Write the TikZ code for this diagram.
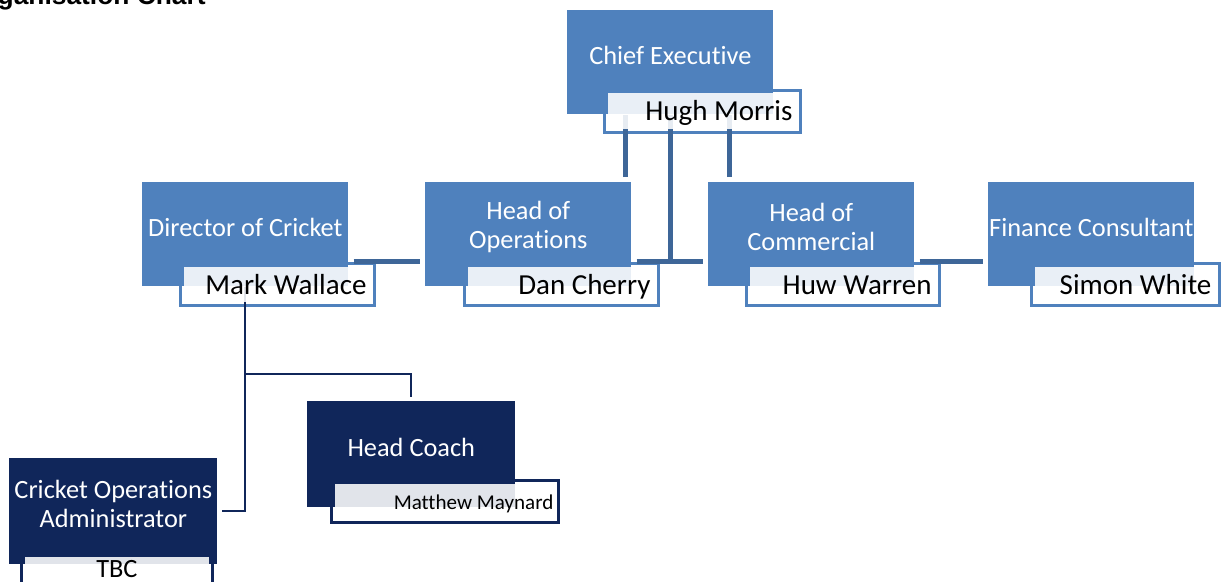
\documentclass[tikz,border=0pt]{standalone}
\usepackage{fontspec}
\setmainfont{Carlito}[Ligatures={NoCommon,NoContextual}]
\newfontfamily\headfont{Liberation Sans}
\usetikzlibrary{calc}
\definecolor{OrgBlue}{HTML}{4F81BD}
\definecolor{OrgNavy}{HTML}{10265A}
\definecolor{OrgWire}{HTML}{3E6698}
\pgfdeclarelayer{frames}
\pgfdeclarelayer{wires}
\pgfdeclarelayer{veils}
\pgfsetlayers{frames,wires,main,veils}

\begin{document}
\begin{tikzpicture}[x=0.02cm,y=-0.02cm,
  post/.style={fill=OrgBlue,anchor=north west,inner sep=0pt,minimum width=4.12cm,minimum height=2.08cm},
  navypost/.style={post,fill=OrgNavy,minimum width=4.16cm,minimum height=2.12cm},
  nameframe/.style={fill=white,draw=OrgBlue,line width=1.6pt,anchor=north west,inner sep=0pt,minimum height=0.84cm},
  navyframe/.style={nameframe,draw=OrgNavy},
  veil/.style={fill=white,fill opacity=.88},
  posttitle/.style={text=white,align=center,font=\fontsize{15}{16.5}\selectfont},
  holder/.style={anchor=base east,inner sep=0pt,font=\fontsize{16.5}{18}\selectfont},
  wire/.style={draw=OrgWire,line width=0.1cm},
  navywire/.style={draw=OrgNavy,line width=0.04cm}]
\path[use as bounding box] (0,0) rectangle (1229,581);
\node[anchor=base east,inner sep=0pt,font=\headfont\bfseries\fontsize{15}{18}\selectfont] (heading) at (206,5) {Organisation Chart};

% posts
\node[post] (ce) at (567,10) {};
\node[post] (dir) at (142,182) {};
\node[post] (ops) at (425,182) {};
\node[post] (com) at (708,182) {};
\node[post] (fin) at (988,182) {};
\node[navypost] (hc) at (307,401) {};
\node[navypost] (cop) at (9,458) {};

\node[posttitle] (ceT) at ($(ce.north)+(0,45)$) {Chief Executive};
\node[posttitle] (dirT) at ($(dir.north)+(0,45)$) {Director of Cricket};
\node[posttitle] (opsT) at ($(ops.north)+(0,45)$) {Head of\\Operations};
\node[posttitle] (comT) at ($(com.north)+(0,45)$) {Head of\\Commercial};
\node[posttitle] (finT) at ($(fin.north)+(0,45)$) {Finance Consultant};
\node[posttitle] (hcT) at ($(hc.north)+(0,46)$) {Head Coach};
\node[posttitle] (copT) at ($(cop.north)+(0,46)$) {Cricket Operations\\Administrator};

% name frames sit behind the posts
\begin{pgfonlayer}{frames}
\node[nameframe,minimum width=3.92cm] (cef) at (603,89) {};
\node[nameframe,minimum width=3.88cm] (dirf) at (179,262) {};
\node[nameframe,minimum width=3.88cm] (opsf) at (463,262) {};
\node[nameframe,minimum width=3.86cm] (comf) at (745,262) {};
\node[nameframe,minimum width=3.76cm] (finf) at (1030,262) {};
\node[navyframe,minimum width=4.54cm] (hcf) at (330,479) {};
\node[navyframe,minimum width=3.82cm] (copf) at (20,552) {};
\end{pgfonlayer}

% connectors
\begin{pgfonlayer}{wires}
\coordinate (bar) at (0,261);
\coordinate (split) at (0,374);
\coordinate (opsin) at ([shift={(-6,-5)}]ops.north east);
\coordinate (comin) at ([shift={(21,-5)}]com.north west);
\coordinate (hcin) at ([yshift=0.08cm]hc.north);
\draw[wire] (ce.south) -- (ce.south |- bar);
\draw[wire] (opsin) -- (opsin |- ce.south);
\draw[wire] (comin) -- (comin |- ce.south);
\draw[wire,shorten <=0.1cm,shorten >=0.1cm] (dir.east |- bar) -- (ops.west |- bar);
\draw[wire,shorten <=0.1cm,shorten >=0.1cm] (ops.east |- bar) -- (com.west |- bar);
\draw[wire,shorten <=0.1cm,shorten >=0.1cm] (com.east |- bar) -- (fin.west |- bar);
\draw[navywire] (dir.south) -- (dir.south |- cop.east) -- ([xshift=0.08cm]cop.east);
\draw[navywire] (dir.south |- split) -| (hcin);
\end{pgfonlayer}

% names over a pale veil
\begin{pgfonlayer}{veils}
\foreach \f in {cef,dirf,opsf,comf,finf,hcf,copf}
  \fill[veil] ([shift={(4.5,4.5)}]\f.north west) rectangle ([shift={(-4.5,-4.5)}]\f.south east);
\node[holder] (ceN) at ($(cef.south east)+(-9,-13)$) {Hugh Morris};
\node[holder] (dirN) at ($(dirf.south east)+(-9,-12)$) {Mark Wallace};
\node[holder] (opsN) at ($(opsf.south east)+(-9,-12)$) {Dan Cherry};
\node[holder] (comN) at ($(comf.south east)+(-9,-12)$) {Huw Warren};
\node[holder] (finN) at ($(finf.south east)+(-9,-12)$) {Simon White};
\node[holder,font=\fontsize{12}{14}\selectfont] (hcN) at ($(hcf.south east)+(-6,-14)$) {Matthew Maynard};
\node[holder,anchor=base,font=\fontsize{15}{17}\selectfont] (copN) at ($(copf.north)+(0,25)$) {TBC};
\end{pgfonlayer}
\end{tikzpicture}
\end{document}
